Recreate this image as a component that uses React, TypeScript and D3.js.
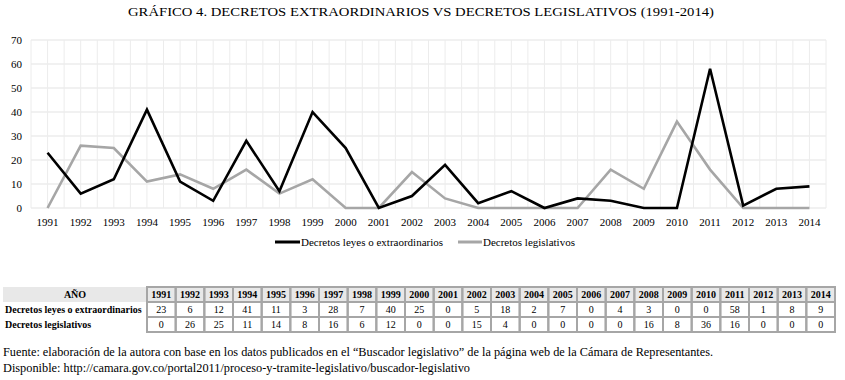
import React from 'react';
import * as d3 from 'd3';

const years = [1991, 1992, 1993, 1994, 1995, 1996, 1997, 1998, 1999, 2000, 2001, 2002, 2003, 2004, 2005, 2006, 2007, 2008, 2009, 2010, 2011, 2012, 2013, 2014];
const extraordinarios = [23, 6, 12, 41, 11, 3, 28, 7, 40, 25, 0, 5, 18, 2, 7, 0, 4, 3, 0, 0, 58, 1, 8, 9];
const legislativos = [0, 26, 25, 11, 14, 8, 16, 6, 12, 0, 0, 15, 4, 0, 0, 0, 0, 16, 8, 36, 16, 0, 0, 0];
const yTicks = [0, 10, 20, 30, 40, 50, 60, 70];
const seriesNames = ['Decretos leyes o extraordinarios', 'Decretos legislativos'];
const title = 'GRÁFICO 4. DECRETOS EXTRAORDINARIOS VS DECRETOS LEGISLATIVOS (1991-2014)';
const source1 = 'Fuente: elaboración de la autora con base en los datos publicados en el “Buscador legislativo” de la página web de la Cámara de Representantes.';
const source2 = 'Disponible: http://camara.gov.co/portal2011/proceso-y-tramite-legislativo/buscador-legislativo';

const FONT = "'Liberation Serif', 'DejaVu Serif', serif";

export default function App() {
  const W = 845, H = 380;
  const x = d3.scaleBand<number>().domain(years).range([31, 826]).padding(0);
  const y = d3.scaleLinear().domain([0, 70]).range([208, 40]);
  const bw = x.bandwidth();
  const cx = (yr: number) => (x(yr) as number) + bw / 2;
  const line = d3.line<number>().x((_, i) => cx(years[i])).y(d => y(d));

  const vGrid: number[] = [];
  for (let i = 0; i <= years.length * 2; i++) vGrid.push(31 + (i * bw) / 2);

  const tx = d3.scaleBand<number>().domain(years).range([147, 835]);
  const tbw = tx.bandwidth();
  const rowTop = 287, rowH = 15;
  const rows = [years.map(String), extraordinarios.map(String), legislativos.map(String)];
  const rowLabels = ['AÑO', seriesNames[0], seriesNames[1]];

  return (
    <svg width={W} height={H} style={{ position: 'absolute', left: 0, top: 0, background: '#fff', fontFamily: FONT }}>
      <text x={421} y={16} textAnchor="middle" fontSize={13} textLength={586} lengthAdjust="spacingAndGlyphs">{title}</text>

      {yTicks.map(t => (
        <line key={'h' + t} x1={31} x2={826} y1={y(t)} y2={y(t)} stroke="#e3e3e3" strokeWidth={1} />
      ))}
      {vGrid.map((gx, i) => (
        <line key={'v' + i} x1={gx} x2={gx} y1={y(70)} y2={y(0)} stroke="#ececec" strokeWidth={1} />
      ))}
      {yTicks.map(t => (
        <text key={'yt' + t} x={22} y={y(t) + 4} textAnchor="end" fontSize={11}>{t}</text>
      ))}
      {years.map(yr => (
        <text key={'xt' + yr} x={cx(yr)} y={226} textAnchor="middle" fontSize={11}>{yr}</text>
      ))}

      <path d={line(legislativos) || ''} fill="none" stroke="#a6a6a6" strokeWidth={2.6} />
      <path d={line(extraordinarios) || ''} fill="none" stroke="#000" strokeWidth={2.6} />

      <line x1={275} x2={300} y1={242} y2={242} stroke="#000" strokeWidth={3} />
      <text x={301} y={245.5} fontSize={11}>{seriesNames[0]}</text>
      <line x1={458} x2={482} y1={242} y2={242} stroke="#a6a6a6" strokeWidth={3} />
      <text x={483} y={245.5} fontSize={11}>{seriesNames[1]}</text>

      <rect x={3} y={rowTop} width={835 - 3} height={rowH} fill="#e8e8e8" />
      {rowLabels.map((lab, r) => (
        <text key={'rl' + r} x={r === 0 ? 75 : 5} y={rowTop + r * rowH + 11} textAnchor={r === 0 ? 'middle' : 'start'} fontSize={10} fontWeight="bold">{lab}</text>
      ))}
      {rows.map((row, r) =>
        row.map((v, i) => (
          <g key={`c${r}-${i}`}>
            <rect x={tx(years[i])} y={rowTop + r * rowH} width={tbw} height={rowH} fill="none" stroke="#a6a6a6" strokeWidth={2} />
            <text x={(tx(years[i]) as number) + tbw / 2} y={rowTop + r * rowH + 11} textAnchor="middle" fontSize={10} fontWeight={r === 0 ? 'bold' : 'normal'}>{v}</text>
          </g>
        ))
      )}

      <text x={3} y={356} fontSize={12} textLength={710} lengthAdjust="spacingAndGlyphs">{source1}</text>
      <text x={3} y={372} fontSize={12} textLength={467} lengthAdjust="spacingAndGlyphs">{source2}</text>
    </svg>
  );
}
